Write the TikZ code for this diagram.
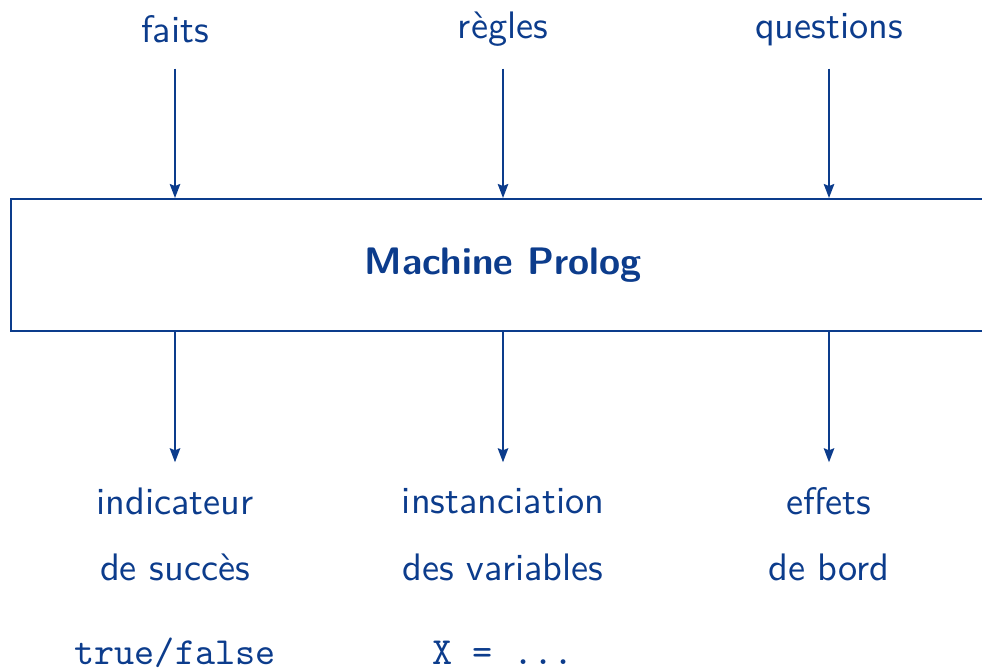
\documentclass[tikz,border=0pt]{standalone}
\usepackage{tikz}
\usetikzlibrary{arrows.meta,positioning}
\definecolor{plblue}{HTML}{0C3C8C}
\tikzset{
  pm/.style={>={Stealth[length=4pt,width=3pt,inset=0.6pt]}, every node/.style={font=\sffamily\fontsize{10.9}{13}\selectfont, text=plblue}},
  machinebox/.style={draw=plblue, line width=0.55pt, minimum width=9.84cm, minimum height=1.32cm, font=\sffamily\bfseries\fontsize{10.9}{13}\selectfont},
  io/.style={minimum height=0.77cm, inner sep=0pt},
  flow/.style={->, draw=plblue, line width=0.5pt},
  ttline/.style={font=\ttfamily\fontsize{10.9}{13}\selectfont}
}

\begin{document}
\begin{tikzpicture}[pm]
\useasboundingbox (0,0) rectangle (9.82,6.71);
\clip (0,0) rectangle (9.82,6.71);
% the machine and what goes in
\node[machinebox] (machine) at (5.03,4.06) {Machine Prolog};
\node[io] (faits) at (1.75,6.415) {faits};
\node[io] (regles) at (5.03,6.415) {règles};
\node[io] (quest) at (8.29,6.415) {questions};
% what comes out
\node[io] (indic) at (1.75,1.695) {indicateur};
\node[io] (inst) at (5.03,1.695) {instanciation};
\node[io] (effets) at (8.29,1.695) {effets};
\node[below=0.655cm of indic.center, anchor=center] (succes) {de succès};
\node[below=0.655cm of inst.center, anchor=center] (vars) {des variables};
\node[below=0.655cm of effets.center, anchor=center] (bord) {de bord};
\node[ttline, below=0.86cm of succes.center, anchor=center] (tf) {true/false};
\node[ttline, below=0.86cm of vars.center, anchor=center] (xval) {X = ...};
\foreach \a in {faits,regles,quest} \draw[flow] (\a) -- (\a |- machine.north);
\foreach \a in {indic,inst,effets} \draw[flow] (\a |- machine.south) -- (\a);
\end{tikzpicture}
\end{document}
